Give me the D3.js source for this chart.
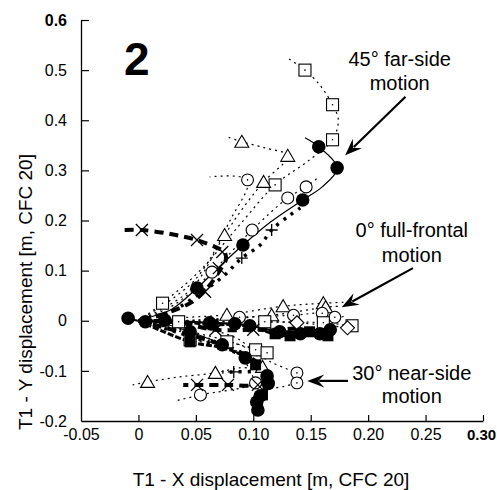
<!DOCTYPE html>
<html><head><meta charset="utf-8">
<script src="https://cdn.jsdelivr.net/npm/d3@7"></script>
<style>body{margin:0;background:#fff}svg{display:block}text{font-family:"Liberation Sans",Arial,sans-serif;fill:#000}</style>
</head><body><svg id="c" width="497" height="490"></svg>
<script>
// ---- axis ticks ----
const xTicks = [-0.05, 0, 0.05, 0.10, 0.15, 0.20, 0.25, 0.30];
const xTickLabels = ["-0.05", "0", "0.05", "0.10", "0.15", "0.20", "0.25", "0.30"];
const yTicks = [0.6, 0.5, 0.4, 0.3, 0.2, 0.1, 0, -0.1, -0.2];
const yTickLabels = ["0.6", "0.5", "0.4", "0.3", "0.2", "0.1", "0", "-0.1", "-0.2"];

// ---- 45° far-side trajectories ----
const farFilledCirclePath = [[0,0],[0.014,0.010],[0.029,0.023],[0.051,0.065],[0.071,0.109],[0.091,0.151],[0.115,0.197],[0.143,0.241],[0.160,0.267],[0.173,0.305],[0.157,0.347],[0.145,0.365]];
const farFilledCircleMarks = [[0.051,0.065],[0.091,0.151],[0.143,0.241],[0.173,0.305],[0.157,0.347]];
const farOpenCirclePath = [[0,0],[0.032,0.033],[0.064,0.097],[0.099,0.181],[0.130,0.245],[0.146,0.267],[0.156,0.285]];
const farOpenCircleMarks = [[0.064,0.097],[0.099,0.181],[0.130,0.245],[0.146,0.267]];
const farHexPath = [[0,0],[0.049,0.081],[0.080,0.201],[0.095,0.281],[0.062,0.287]];
const farHexMarks = [[0.095,0.281]];
const farTrianglePath = [[0,0],[0.045,0.061],[0.075,0.171],[0.093,0.231],[0.109,0.277],[0.130,0.329],[0.110,0.345],[0.090,0.357],[0.077,0.367]];
const farTriangleMarks = [[0.075,0.171],[0.109,0.277],[0.130,0.329],[0.090,0.357]];
const farSquarePath = [[0,0],[0.021,0.035],[0.054,0.101],[0.088,0.191],[0.119,0.271],[0.149,0.321],[0.169,0.361],[0.174,0.401],[0.169,0.431],[0.158,0.470],[0.145,0.500],[0.130,0.524]];
const farSquareMarks = [[0.021,0.035],[0.119,0.271],[0.169,0.361],[0.169,0.431],[0.145,0.500]];
const farCrossPath = [[-0.012,0.181],[0.003,0.181],[0.028,0.173],[0.051,0.161],[0.067,0.147],[0.075,0.137],[0.076,0.121],[0.071,0.101],[0.062,0.071],[0.049,0.041],[0.028,0.018],[0,0]];
const farCrossMarks = [[0.003,0.181],[0.051,0.161],[0.073,0.137],[0.070,0.105],[0.058,0.058]];
const farPlusPath = [[0,0],[0.028,0.018],[0.054,0.055],[0.075,0.091],[0.090,0.125],[0.106,0.151],[0.116,0.181],[0.132,0.211],[0.141,0.225]];
const farPlusMarks = [[0.090,0.125],[0.116,0.181]];

// ---- 0° full-frontal trajectories ----
const zeroFilledCirclePath = [[-0.009,0.005],[0.006,-0.002],[0.023,0.001],[0.045,-0.002],[0.062,-0.004],[0.084,-0.006],[0.097,-0.010],[0.110,-0.016],[0.123,-0.022],[0.141,-0.026],[0.158,-0.026],[0.167,-0.018]];
const zeroFilledCircleMarks = [[-0.009,0.005],[0.006,-0.002],[0.023,0.001],[0.062,-0.004],[0.084,-0.006],[0.097,-0.010],[0.123,-0.022],[0.141,-0.026],[0.158,-0.026],[0.167,-0.018]];
const zeroFilledSquarePath = [[0,0],[0.036,-0.002],[0.065,-0.008],[0.088,-0.008],[0.119,-0.026],[0.132,-0.030],[0.149,-0.022],[0.165,-0.030]];
const zeroFilledSquareMarks = [[0.065,-0.008],[0.119,-0.026],[0.132,-0.030],[0.149,-0.022],[0.165,-0.030]];
const zeroTrianglePath = [[0,0],[0.036,0.006],[0.077,0.012],[0.126,0.029],[0.161,0.035],[0.180,0.037]];
const zeroTriangleMarks = [[0.077,0.012],[0.126,0.029],[0.161,0.035]];
const zeroTriangle2Path = [[0,0],[0.054,0.001],[0.116,0.011],[0.163,0.027],[0.176,0.029]];
const zeroTriangle2Marks = [[0.116,0.011],[0.163,0.027]];
const zeroOpenCirclePath = [[0,0],[0.045,0.001],[0.088,0.007],[0.135,0.011],[0.160,0.015],[0.171,0.007],[0.180,0.009]];
const zeroOpenCircleMarks = [[0.088,0.007],[0.135,0.011],[0.160,0.015],[0.171,0.007]];
const zeroSquarePath = [[0,0],[0.035,-0.002],[0.110,-0.002],[0.161,-0.004],[0.186,-0.010]];
const zeroSquareMarks = [[0.035,-0.002],[0.110,-0.002],[0.161,-0.004],[0.186,-0.010]];
const zeroDiamondPath = [[0,0],[0.088,-0.002],[0.138,-0.004],[0.182,-0.014]];
const zeroDiamondMarks = [[0.138,-0.004],[0.182,-0.014]];
const zeroCrossPath = [[0,0],[0.036,-0.004],[0.067,-0.018],[0.100,-0.018],[0.119,-0.018],[0.141,-0.014]];
const zeroCrossMarks = [[0.067,-0.018],[0.100,-0.018]];

// ---- 30° near-side trajectories ----
const nearFilledCirclePath = [[0,0],[0.019,-0.004],[0.045,-0.022],[0.073,-0.048],[0.093,-0.074],[0.108,-0.098],[0.115,-0.118],[0.110,-0.142],[0.104,-0.162],[0.104,-0.182]];
const nearFilledCircleMarks = [[0.045,-0.022],[0.073,-0.048],[0.093,-0.074],[0.112,-0.110],[0.113,-0.125],[0.106,-0.150],[0.103,-0.162],[0.104,-0.178]];
const nearFilledSquarePath = [[0,0],[0.045,-0.042],[0.080,-0.058],[0.102,-0.088],[0.110,-0.114],[0.108,-0.148]];
const nearFilledSquareMarks = [[0.045,-0.042],[0.102,-0.088],[0.108,-0.148]];
const nearTrianglePath = [[0,0],[0.036,-0.008],[0.088,-0.038],[0.108,-0.092],[0.088,-0.094],[0.067,-0.104],[0.036,-0.112],[0.008,-0.122],[-0.005,-0.128]];
const nearTriangleMarks = [[0.108,-0.092],[0.067,-0.104],[0.008,-0.122]];
const nearCrossPath = [[0,0],[0.045,-0.028],[0.088,-0.062],[0.108,-0.094],[0.110,-0.118],[0.104,-0.128],[0.078,-0.128],[0.051,-0.128],[0.039,-0.128]];
const nearCrossMarks = [[0.104,-0.128],[0.078,-0.128],[0.051,-0.128]];
const nearOpenCirclePath = [[0,0],[0.071,-0.048],[0.108,-0.102],[0.102,-0.124],[0.054,-0.148],[0.032,-0.160]];
const nearOpenCircleMarks = [[0.102,-0.124],[0.054,-0.148]];
const nearOpenCircle2Path = [[0,0],[0.088,-0.048],[0.115,-0.082],[0.138,-0.104]];
const nearOpenCircle2Marks = [[0.138,-0.104]];
const nearHexPath = [[0,0],[0.084,-0.058],[0.108,-0.132],[0.138,-0.124]];
const nearHexMarks = [[0.138,-0.124]];
const nearPlusPath = [[0,0],[0.054,-0.038],[0.093,-0.074],[0.102,-0.098],[0.083,-0.102],[0.073,-0.102]];
const nearPlusMarks = [[0.083,-0.102]];
const nearSquarePath = [[0,0],[0.035,-0.004],[0.045,-0.038],[0.077,-0.042],[0.102,-0.058],[0.112,-0.064],[0.119,-0.062]];
const nearSquareMarks = [[0.045,-0.038],[0.077,-0.042],[0.102,-0.058],[0.112,-0.064]];

// ---- annotations ----
const annotations = [
  {lines: ["45° far-side", "motion"], cx: 0.2275, cy: [0.509, 0.461], from: [0.2325, 0.447], to: [0.1800, 0.330]},
  {lines: ["0° full-frontal", "motion"], cx: 0.2380, cy: [0.167, 0.117], from: [0.2390, 0.105], to: [0.1770, 0.027]},
  {lines: ["30° near-side", "motion"], cx: 0.2380, cy: [-0.118, -0.164], from: [0.1825, -0.120], to: [0.1470, -0.120]}
];

const svg = d3.select("#c");
const x = d3.scaleLinear().domain([-0.05, 0.30]).range([81, 483]);
const y = d3.scaleLinear().domain([-0.2, 0.6]).range([421, 20]);

// axes
const gy = svg.append("g").attr("transform", "translate(81,0)")
  .call(d3.axisLeft(y).tickValues(yTicks).tickSizeInner(-8).tickSizeOuter(0).tickPadding(14)
    .tickFormat((d, i) => yTickLabels[i]));
const gx = svg.append("g").attr("transform", "translate(0,421)")
  .call(d3.axisBottom(x).tickValues(xTicks).tickSizeInner(-6).tickSizeOuter(0).tickPadding(8)
    .tickFormat((d, i) => xTickLabels[i]));
[gx, gy].forEach(g => {
  g.selectAll("path.domain").attr("stroke", "#000").attr("stroke-width", 1.3);
  g.selectAll(".tick line").attr("stroke", "#000").attr("stroke-width", 1.2);
  g.selectAll(".tick text").attr("font-size", 16).attr("font-family", "Liberation Sans, Arial, sans-serif").attr("fill", "#000");
});
gy.selectAll(".tick text").filter(d => d === 0.6).attr("font-weight", "bold");
gx.selectAll(".tick text").filter(d => d === 0.30).attr("font-weight", "bold").attr("font-size", 15).attr("dx", -2);
gy.selectAll(".tick").filter(d => d === -0.2).select("line").remove();
gx.selectAll(".tick").filter(d => d === -0.05).select("line").remove();

// titles
svg.append("text").attr("x", 271).attr("y", 486).attr("text-anchor", "middle").attr("font-size", 19)
  .text("T1 - X displacement [m, CFC 20]");
svg.append("text").attr("transform", "translate(32,292) rotate(-90)").attr("text-anchor", "middle").attr("font-size", 19)
  .text("T1 - Y displacement [m, CFC 20]");
svg.append("text").attr("x", 124).attr("y", 75).attr("font-size", 46).attr("font-weight", "bold").text("2");

// line styles
const styles = {
  solid: {w: 1.2, dash: null},
  solidHeavy: {w: 2.2, dash: null},
  dot: {w: 1.2, dash: "2,4"},
  dash: {w: 4, dash: "9,6"},
  dotThick: {w: 3.5, dash: "3,6"},
  heavyDash: {w: 3, dash: "6,2"}
};

const series = [
  {path: farSquarePath, marks: farSquareMarks, m: "sq", s: "dot"},
  {path: farTrianglePath, marks: farTriangleMarks, m: "tri", s: "dot"},
  {path: farHexPath, marks: farHexMarks, m: "hex", s: "dot"},
  {path: farOpenCirclePath, marks: farOpenCircleMarks, m: "oc", s: "dot"},
  {path: farPlusPath, marks: farPlusMarks, m: "plus", s: "dotThick"},
  {path: farCrossPath, marks: farCrossMarks, m: "x", s: "dash"},
  {path: farFilledCirclePath, marks: farFilledCircleMarks, m: "fc", s: "solid"},
  {path: zeroTrianglePath, marks: zeroTriangleMarks, m: "tri", s: "dot"},
  {path: zeroTriangle2Path, marks: zeroTriangle2Marks, m: "tri", s: "dot"},
  {path: zeroOpenCirclePath, marks: zeroOpenCircleMarks, m: "hex", s: "dot"},
  {path: zeroSquarePath, marks: zeroSquareMarks, m: "sq", s: "dot"},
  {path: zeroDiamondPath, marks: zeroDiamondMarks, m: "dia", s: "dot"},
  {path: zeroCrossPath, marks: zeroCrossMarks, m: "x", s: "dash"},
  {path: zeroFilledSquarePath, marks: zeroFilledSquareMarks, m: "fs", s: "heavyDash"},
  {path: zeroFilledCirclePath, marks: zeroFilledCircleMarks, m: "fc", s: "solidHeavy"},
  {path: nearTrianglePath, marks: nearTriangleMarks, m: "tri", s: "dot"},
  {path: nearOpenCirclePath, marks: nearOpenCircleMarks, m: "oc", s: "dot"},
  {path: nearOpenCircle2Path, marks: nearOpenCircle2Marks, m: "hex", s: "dot"},
  {path: nearHexPath, marks: nearHexMarks, m: "hex", s: "dot"},
  {path: nearSquarePath, marks: nearSquareMarks, m: "sq", s: "dot"},
  {path: nearPlusPath, marks: nearPlusMarks, m: "plus", s: "dotThick"},
  {path: nearCrossPath, marks: nearCrossMarks, m: "x", s: "dash"},
  {path: nearFilledSquarePath, marks: nearFilledSquareMarks, m: "fs", s: "heavyDash"},
  {path: nearFilledCirclePath, marks: nearFilledCircleMarks, m: "fc", s: "solid"}
];

const line = d3.line().x(d => x(d[0])).y(d => y(d[1])).curve(d3.curveCatmullRom.alpha(0.5));
const gl = svg.append("g");
series.forEach(se => {
  const st = styles[se.s];
  gl.append("path").attr("d", line(se.path)).attr("fill", "none").attr("stroke", "#000")
    .attr("stroke-width", st.w).attr("stroke-dasharray", st.dash);
});

const gm = svg.append("g");
function marker(g, type, cx, cy) {
  const k = g.append("g").attr("transform", `translate(${cx},${cy})`);
  if (type === "fc") k.append("circle").attr("r", 6.8).attr("fill", "#000");
  else if (type === "oc") k.append("circle").attr("r", 6).attr("fill", "#fff").attr("stroke", "#000").attr("stroke-width", 1.1);
  else if (type === "hex") {
    k.append("path").attr("d", d3.symbol(d3.symbolCircle, 110)()).attr("fill", "#fff").attr("stroke", "#000").attr("stroke-width", 1.1);
    k.append("circle").attr("r", 0.8).attr("fill", "#000");
  } else if (type === "sq") {
    k.append("rect").attr("x", -6).attr("y", -6).attr("width", 12).attr("height", 12).attr("fill", "#fff").attr("stroke", "#000").attr("stroke-width", 1.1);
    k.append("circle").attr("r", 0.8).attr("fill", "#000");
  } else if (type === "fs") k.append("rect").attr("x", -5.5).attr("y", -5.5).attr("width", 11).attr("height", 11).attr("fill", "#000");
  else if (type === "tri") k.append("path").attr("d", "M0,-6.5L7,5.5L-7,5.5Z").attr("fill", "#fff").attr("stroke", "#000").attr("stroke-width", 1.1);
  else if (type === "dia") k.append("path").attr("d", "M0,-7L7,0L0,7L-7,0Z").attr("fill", "#fff").attr("stroke", "#000").attr("stroke-width", 1.1);
  else if (type === "x") k.append("path").attr("d", "M-6,-6L6,6M-6,6L6,-6").attr("stroke", "#000").attr("stroke-width", 1.3);
  else if (type === "plus") k.append("path").attr("d", "M-6,0L6,0M0,-6L0,6").attr("stroke", "#000").attr("stroke-width", 1.3);
}
series.forEach(se => se.marks.forEach(p => marker(gm, se.m, x(p[0]), y(p[1]))));

// annotations
const ga = svg.append("g");
annotations.forEach(a => {
  a.lines.forEach((t, i) => ga.append("text").attr("x", x(a.cx)).attr("y", y(a.cy[i]))
    .attr("text-anchor", "middle").attr("font-size", 20).text(t));
  const x1 = x(a.from[0]), y1 = y(a.from[1]), x2 = x(a.to[0]), y2 = y(a.to[1]);
  const ang = Math.atan2(y2 - y1, x2 - x1);
  const L = 15, W = 6.5;
  const bx = x2 - L * Math.cos(ang), by = y2 - L * Math.sin(ang);
  ga.append("line").attr("x1", x1).attr("y1", y1).attr("x2", bx + 3 * Math.cos(ang)).attr("y2", by + 3 * Math.sin(ang))
    .attr("stroke", "#000").attr("stroke-width", 2.2);
  const px = -Math.sin(ang), py = Math.cos(ang);
  const nx = x2 - (L - 4) * Math.cos(ang), ny = y2 - (L - 4) * Math.sin(ang);
  ga.append("path").attr("d", `M${x2},${y2}L${bx + W * px - 2*Math.cos(ang)},${by + W * py - 2*Math.sin(ang)}L${nx},${ny}L${bx - W * px - 2*Math.cos(ang)},${by - W * py - 2*Math.sin(ang)}Z`)
    .attr("fill", "#000");
});
</script></body></html>
